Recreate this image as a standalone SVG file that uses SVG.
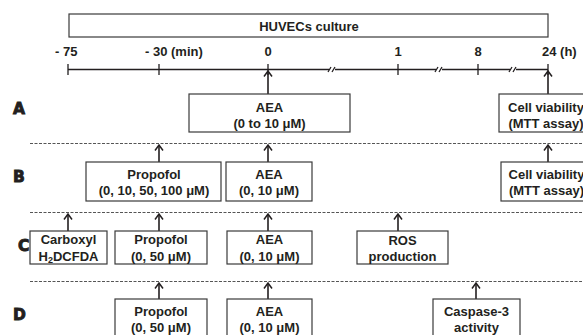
<svg xmlns="http://www.w3.org/2000/svg" width="583" height="335" viewBox="0 0 583 335">
<defs>
<style>
.t{font-family:"Liberation Sans",Arial,sans-serif;font-weight:bold;font-size:13px;fill:#231f20;text-anchor:middle}
.s{text-anchor:start}
.L{font-family:"DejaVu Sans",sans-serif;font-weight:bold;font-size:15.5px;fill:#231f20;stroke:#231f20;stroke-width:0.9}
.box{fill:#fff;stroke:#3a3a3a;stroke-width:1.2}
.ln{stroke:#231f20;stroke-width:1.3;fill:none}
.dash{stroke:#555;stroke-width:1;stroke-dasharray:3 1.5;fill:none}
.ar{stroke:#231f20;stroke-width:1.6;fill:none;marker-end:url(#ah)}
</style>
<marker id="ah" viewBox="0 0 10 10" refX="9" refY="5" markerWidth="10" markerHeight="10" markerUnits="userSpaceOnUse" orient="auto">
<path d="M3.5,1 L9,5 L3.5,9" fill="none" stroke="#231f20" stroke-width="1.5"/>
</marker>
</defs>

<g id="timeline">
<rect class="box" x="69" y="14" width="479" height="23"/>
<text class="t" x="309" y="31">HUVECs culture</text>
<text class="t s" x="55" y="56">- 75</text>
<text class="t s" x="145" y="56">- 30 (min)</text>
<text class="t" x="268" y="56">0</text>
<text class="t" x="398" y="56">1</text>
<text class="t" x="478" y="56">8</text>
<text class="t s" x="542" y="56">24 (h)</text>
<path class="ln" d="M68,69.5 H548 M68,64 V75 M159,64 V75 M268,64 V75 M398,64 V75 M478,64 V75 M548,64 V75"/>
<g stroke="#fff" stroke-width="4"><path d="M329,69.5 H335 M436,69.5 H442 M510,69.5 H516"/></g>
<path class="ln" stroke-width="1" d="M328,72 L331,67 M332,72 L335,67 M435,72 L438,67 M439,72 L442,67 M509,72 L512,67 M513,72 L516,67"/>
</g>

<g id="labels">
<text class="L" x="13" y="113.5">A</text>
<text class="L" x="13" y="182">B</text>
<text class="L" x="18" y="250.5">C</text>
<text class="L" x="13" y="320">D</text>
</g>

<g id="separators">
<path class="dash" d="M30,143.5 H583 M30,212.5 H583 M30,281.5 H583"/>
</g>

<g id="connectors">
<path class="ar" d="M268,94 V71"/>
<path class="ar" d="M548,94 V71"/>
<path class="ar" d="M159,162 V145"/>
<path class="ar" d="M268,162 V145"/>
<path class="ar" d="M548,162 V145"/>
<path class="ar" d="M68,231 V214"/>
<path class="ar" d="M159,231 V214"/>
<path class="ar" d="M268,231 V214"/>
<path class="ar" d="M398,231 V214"/>
<path class="ar" d="M159,299 V283"/>
<path class="ar" d="M268,299 V283"/>
<path class="ar" d="M476,299 V283"/>
</g>

<g id="A-aea">
<rect class="box" x="189" y="94" width="161" height="38"/>
<text class="t" x="269.5" y="112">AEA</text>
<text class="t" x="269.5" y="128">(0 to 10 μM)</text>
</g>
<g id="A-mtt">
<rect class="box" x="499" y="94" width="100" height="38"/>
<text class="t" x="546" y="112">Cell viability</text>
<text class="t" x="546" y="128">(MTT assay)</text>
</g>

<g id="B-propofol">
<rect class="box" x="86" y="162" width="135" height="39"/>
<text class="t" x="154" y="178.5">Propofol</text>
<text class="t" x="154" y="194.5">(0, 10, 50, 100 μM)</text>
</g>
<g id="B-aea">
<rect class="box" x="226" y="162" width="86" height="39"/>
<text class="t" x="269" y="178.5">AEA</text>
<text class="t" x="269" y="194.5">(0, 10 μM)</text>
</g>
<g id="B-mtt">
<rect class="box" x="501" y="162" width="100" height="39"/>
<text class="t" x="546.5" y="178.5">Cell viability</text>
<text class="t" x="546.5" y="194.5">(MTT assay)</text>
</g>

<g id="C-carboxyl">
<rect class="box" x="30" y="231" width="77" height="33"/>
<text class="t" x="68.5" y="244">Carboxyl</text>
<text class="t" x="68.5" y="260.5">H<tspan font-size="9" dy="2.5">2</tspan><tspan dy="-2.5">DCFDA</tspan></text>
</g>
<g id="C-propofol">
<rect class="box" x="115" y="231" width="92" height="33"/>
<text class="t" x="161" y="244">Propofol</text>
<text class="t" x="161" y="260.5">(0, 50 μM)</text>
</g>
<g id="C-aea">
<rect class="box" x="227" y="231" width="85" height="33"/>
<text class="t" x="269.5" y="244">AEA</text>
<text class="t" x="269.5" y="260.5">(0, 10 μM)</text>
</g>
<g id="C-ros">
<rect class="box" x="357" y="231" width="91" height="33"/>
<text class="t" x="402.5" y="244.5">ROS</text>
<text class="t" x="402.5" y="261">production</text>
</g>

<g id="D-propofol">
<rect class="box" x="115" y="299" width="92" height="40"/>
<text class="t" x="161" y="316">Propofol</text>
<text class="t" x="161" y="332">(0, 50 μM)</text>
</g>
<g id="D-aea">
<rect class="box" x="227" y="299" width="85" height="40"/>
<text class="t" x="269.5" y="316">AEA</text>
<text class="t" x="269.5" y="332">(0, 10 μM)</text>
</g>
<g id="D-caspase">
<rect class="box" x="433" y="299" width="87" height="40"/>
<text class="t" x="476.5" y="316">Caspase-3</text>
<text class="t" x="476.5" y="332">activity</text>
</g>
</svg>
